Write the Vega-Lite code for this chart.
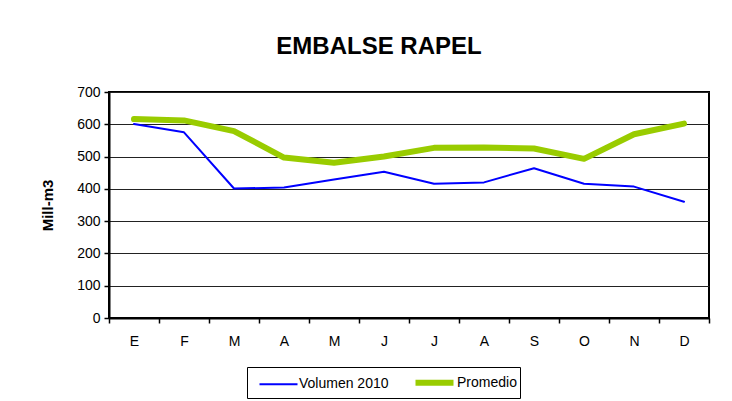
{
  "$schema": "https://vega.github.io/schema/vega-lite/v6.json",
  "width": 600,
  "height": 226,
  "autosize": {"type": "none"},
  "padding": {"left": 109, "top": 92, "right": 23, "bottom": 83},
  "background": "white",
  "title": {"text": "EMBALSE RAPEL", "font": "Liberation Sans", "fontSize": 24, "fontWeight": "bold", "color": "black", "anchor": "middle", "dx": -30, "offset": 26},
  "data": {
    "values": [
      {"mes": "E", "serie": "Volumen 2010", "v": 601},
      {"mes": "F", "serie": "Volumen 2010", "v": 575},
      {"mes": "M1", "serie": "Volumen 2010", "v": 401},
      {"mes": "A1", "serie": "Volumen 2010", "v": 404},
      {"mes": "M2", "serie": "Volumen 2010", "v": 429},
      {"mes": "J1", "serie": "Volumen 2010", "v": 453},
      {"mes": "J2", "serie": "Volumen 2010", "v": 416},
      {"mes": "A2", "serie": "Volumen 2010", "v": 420},
      {"mes": "S", "serie": "Volumen 2010", "v": 464},
      {"mes": "O", "serie": "Volumen 2010", "v": 416},
      {"mes": "N", "serie": "Volumen 2010", "v": 407},
      {"mes": "D", "serie": "Volumen 2010", "v": 360},
      {"mes": "E", "serie": "Promedio", "v": 616},
      {"mes": "F", "serie": "Promedio", "v": 612},
      {"mes": "M1", "serie": "Promedio", "v": 579},
      {"mes": "A1", "serie": "Promedio", "v": 497},
      {"mes": "M2", "serie": "Promedio", "v": 481},
      {"mes": "J1", "serie": "Promedio", "v": 500},
      {"mes": "J2", "serie": "Promedio", "v": 527},
      {"mes": "A2", "serie": "Promedio", "v": 528},
      {"mes": "S", "serie": "Promedio", "v": 525},
      {"mes": "O", "serie": "Promedio", "v": 493},
      {"mes": "N", "serie": "Promedio", "v": 569},
      {"mes": "D", "serie": "Promedio", "v": 602}
    ]
  },
  "mark": {"type": "line", "strokeJoin": "round", "strokeCap": "round"},
  "encoding": {
    "x": {
      "field": "mes",
      "type": "nominal",
      "sort": ["E", "F", "M1", "A1", "M2", "J1", "J2", "A2", "S", "O", "N", "D"],
      "scale": {"type": "band", "paddingInner": 0, "paddingOuter": 0},
      "axis": {
        "title": null,
        "labelExpr": "substring(datum.label, 0, 1)",
        "labelAngle": 0,
        "labelFont": "Liberation Sans",
        "labelFontSize": 14,
        "labelColor": "black",
        "labelPadding": 11,
        "tickBand": "extent",
        "tickColor": "black",
        "tickSize": 5,
        "tickWidth": 1.5,
        "domainColor": "black",
        "domainWidth": 2,
        "grid": false
      }
    },
    "y": {
      "field": "v",
      "type": "quantitative",
      "scale": {"domain": [0, 700], "nice": false},
      "axis": {
        "title": "Mill-m3",
        "titleFont": "Liberation Sans",
        "titleFontSize": 15,
        "titleFontWeight": "bold",
        "titleColor": "black",
        "titlePadding": 21,
        "values": [0, 100, 200, 300, 400, 500, 600, 700],
        "labelFont": "Liberation Sans",
        "labelFontSize": 14,
        "labelColor": "black",
        "labelPadding": 4,
        "tickColor": "black",
        "tickSize": 5,
        "tickWidth": 1.5,
        "domainColor": "black",
        "domainWidth": 2,
        "grid": true,
        "gridColor": "#222222",
        "gridWidth": 1,
        "gridOpacity": 1
      }
    },
    "color": {
      "field": "serie",
      "type": "nominal",
      "scale": {"domain": ["Volumen 2010", "Promedio"], "range": ["#0000FF", "#99CC00"]},
      "legend": {
        "title": null,
        "orient": "none",
        "legendX": 138,
        "legendY": 275,
        "direction": "horizontal",
        "strokeColor": "black",
        "padding": 3,
        "symbolType": "M-2,0H2",
        "symbolSize": 361,
        "symbolOffset": 18,
        "labelFont": "Liberation Sans",
        "labelFontSize": 14,
        "labelColor": "black",
        "labelOffset": 10,
        "columnPadding": 14
      }
    },
    "strokeWidth": {
      "field": "serie",
      "type": "nominal",
      "scale": {"domain": ["Volumen 2010", "Promedio"], "range": [2, 6]},
      "legend": null
    }
  },
  "config": {
    "view": {"stroke": "black", "strokeWidth": 2}
  }
}
